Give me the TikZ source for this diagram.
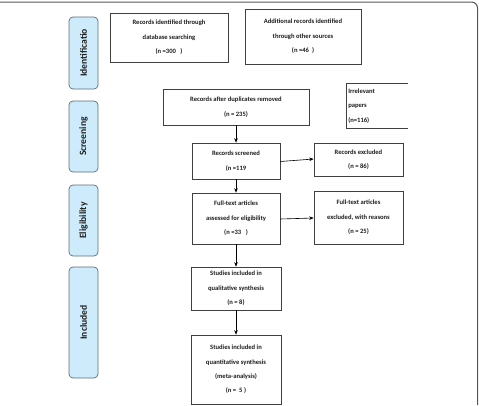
\documentclass[tikz,border=0pt]{standalone}
\usepackage{fontspec}
\setmainfont{Carlito}
\usetikzlibrary{arrows.meta}
\definecolor{sidefill}{HTML}{CDEBFA}
\definecolor{sidedraw}{HTML}{5A6E7C}
\definecolor{framecol}{HTML}{555555}
\definecolor{boxdraw}{HTML}{404040}
\definecolor{txt}{HTML}{1E1E1E}
\begin{document}
\begin{tikzpicture}[x=1pt,y=-1pt,
  box/.style={draw=boxdraw, line width=0.6pt, fill=white, align=center, inner sep=1pt,
    text=txt, font=\fontsize{6.6}{14.4}\selectfont\bfseries},
  side/.style={draw=sidedraw, line width=0.7pt, fill=sidefill, rounded corners=4pt,
    minimum width=29pt, inner sep=0pt, text=txt, font=\fontsize{9.6}{11}\selectfont\bfseries},
  arr/.style={-{Stealth[length=4.5pt,width=3.5pt]}, line width=0.6pt, draw=black}]
\useasboundingbox (0,0) rectangle (479,405);
% frame
\draw[framecol, line width=1pt, rounded corners=6pt] (0,2) -- (477.5,2) -- (477.5,405);
% side labels
\node[side, minimum height=72pt] (sid) at (83.5,53) {\rotatebox{90}{Identificatio}};
\node[side, minimum height=71pt] (sscr) at (83.5,136.5) {\rotatebox{90}{Screening}};
\node[side, minimum height=71pt] (seli) at (83.5,220.5) {\rotatebox{90}{Eligibility}};
\node[side, minimum height=111pt] (sinc) at (83.5,322.5) {\rotatebox{90}{Included}};
% boxes
\node[box, minimum width=118pt, minimum height=49pt] (db) at (169,37.5)
  {Records identified through\\database searching\\(n =300\ \ \ )};
\node[box, minimum width=116pt, minimum height=55pt] (other) at (303,36.5)
  {Additional records identified\\through other sources\\(n =46\ \ )};
\node[box, minimum width=146pt, minimum height=36pt] (dup) at (236,107)
  {Records after duplicates removed\\(n = 235)};
\node[box, draw=none, anchor=north west, text width=57pt, minimum height=45pt, align=left, inner sep=2pt] (irr) at (346,83)
  {Irrelevant\\papers\\(n=116)};
\draw[boxdraw, line width=0.6pt] (irr.north east) -- (irr.north west) -- (irr.south west) -- (irr.south east);
\node[box, minimum width=88pt, minimum height=36pt] (scr) at (236,161)
  {Records screened\\(n =119};
\node[box, minimum width=89pt, minimum height=33pt] (exc) at (358.5,159.5)
  {Records excluded\\(n = 86)};
\node[box, minimum width=88pt, minimum height=51pt] (ft) at (236,218.5)
  {Full-text articles\\assessed for eligibility\\(n =33\ \ \ )};
\node[box, minimum width=89pt, minimum height=53pt] (ftx) at (358.5,217.5)
  {Full-text articles\\excluded, with reasons\\(n = 25)};
\node[box, minimum width=90pt, minimum height=43pt] (qual) at (236,288.5)
  {Studies included in\\qualitative synthesis\\(n = 8)};
\node[box, minimum width=90pt, minimum height=69pt] (quant) at (236,369.5)
  {Studies included in\\quantitative synthesis\\(meta-analysis)\\(n = \ 5 )};
% connectors
\draw[arr] (dup.south) -- (scr.north);
\draw[arr] (scr.south) -- (ft.north);
\draw[arr] (ft.south) -- (qual.north);
\draw[arr] (qual.south) -- (quant.north);
\draw[arr] (scr.east |- 0,161.5) -- (exc.west |- 0,159);
\draw[arr] (ft.east |- 0,219) -- (ftx.west |- 0,218);
\end{tikzpicture}
\end{document}
